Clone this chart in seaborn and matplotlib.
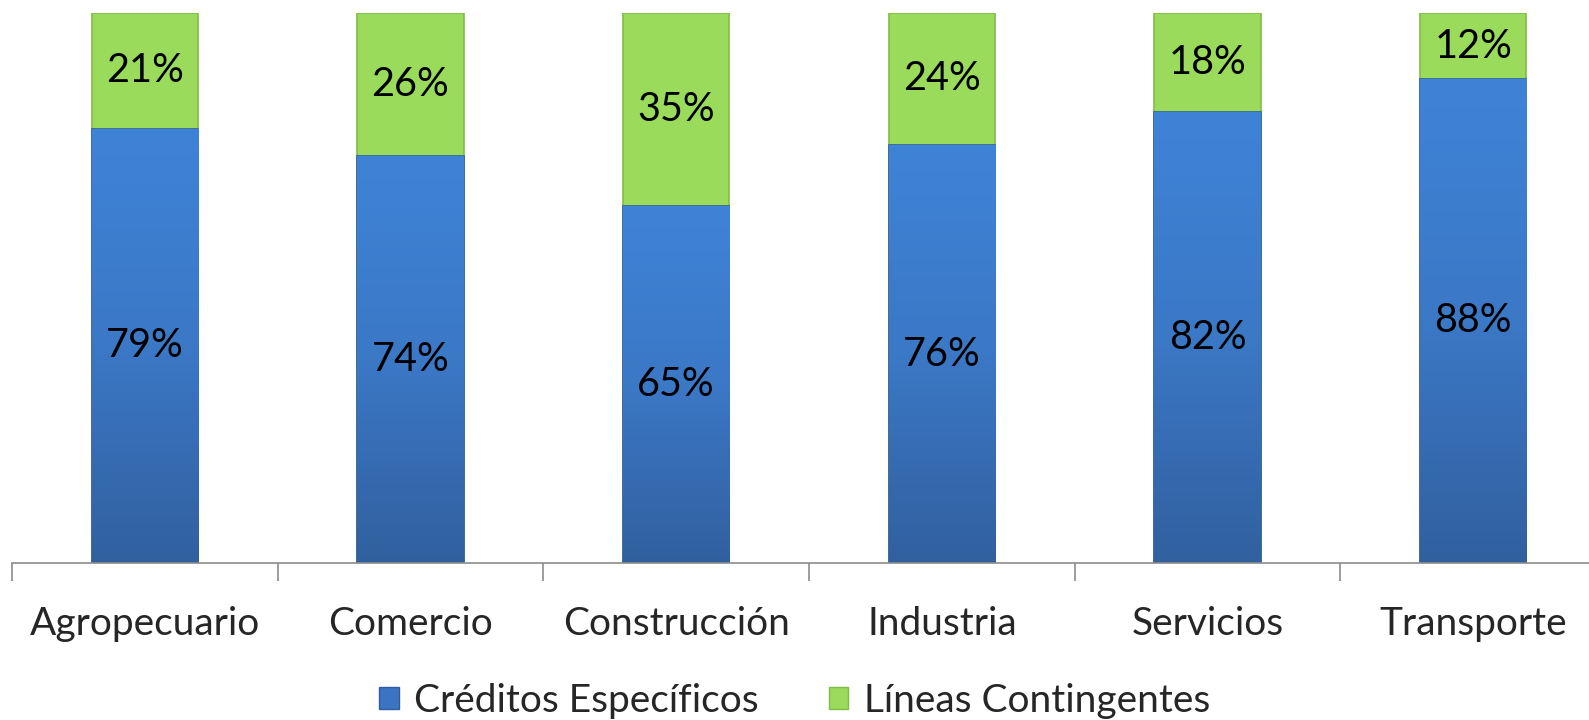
import numpy as np
import pandas as pd
import matplotlib
matplotlib.use("Agg")
import matplotlib.pyplot as plt
from matplotlib.colors import LinearSegmentedColormap
import seaborn as sns

# data
categories = ["Agropecuario", "Comercio", "Construcción", "Industria", "Servicios", "Transporte"]
creditos = [79, 74, 65, 76, 82, 88]
lineas = [21, 26, 35, 24, 18, 12]
series_names = ["Créditos Específicos", "Líneas Contingentes"]

sns.set_style("white")
plt.rcParams['font.family'] = ['Lato', 'DejaVu Sans']

df = pd.DataFrame({"cat": categories, "cred": creditos, "lin": lineas})
df["total"] = df["cred"] + df["lin"]

blue = "#3A74C2"
green = "#9BDB5C"
blue_cmap = LinearSegmentedColormap.from_list("b", ["#31609F", "#3B78C6", "#3F83D7"])

fig = plt.figure(figsize=(15.89, 7.2), dpi=100)
# the plot area runs a little past the right edge, as in the original
ax = fig.add_axes([12 / 1589, 1 - 563 / 720, 1594 / 1589, 550 / 720])

sns.barplot(data=df, x="cat", y="total", color=green, width=0.40, saturation=1,
            edgecolor="#82BC48", linewidth=1.2, ax=ax)
n_green = len(ax.patches)
sns.barplot(data=df, x="cat", y="cred", color=blue, width=0.40, saturation=1,
            edgecolor="#2F5E9C", linewidth=1.2, ax=ax)

# soft vertical gradient on the blue bars
grad = np.linspace(0, 1, 256).reshape(-1, 1)
for p in ax.patches[n_green:]:
    x0, y0 = p.get_x(), p.get_y()
    im = ax.imshow(grad, cmap=blue_cmap, aspect="auto", origin="lower",
                   extent=[x0, x0 + p.get_width(), y0, y0 + p.get_height()], zorder=p.get_zorder())
    im.set_clip_path(p)

for i, (c, l) in enumerate(zip(creditos, lineas)):
    ax.text(i, c / 2, f"{c}%", ha="center", va="center", fontsize=28.5, color="black", zorder=5)
    ax.text(i, c + l / 2, f"{l}%", ha="center", va="center", fontsize=28.5, color="black", zorder=5)

ax.set_xlim(-0.5, len(categories) - 0.5)
ax.set_ylim(0, 100)
ax.set_xlabel("")
ax.set_ylabel("")
ax.set_yticks([])
for s in ["top", "left", "right"]:
    ax.spines[s].set_visible(False)
ax.spines["bottom"].set_color("#8C8C8C")
ax.spines["bottom"].set_linewidth(1.2)

ax.set_xticks(range(len(categories)))
ax.set_xticklabels(categories, fontsize=28)
ax.tick_params(axis="x", which="major", bottom=False, length=0, pad=31)
ax.set_xticks(np.arange(-0.5, len(categories)), minor=True)
ax.tick_params(axis="x", which="minor", bottom=True, length=13, width=1.2,
               color="#8C8C8C", direction="out")

handles = [plt.Rectangle((0, 0), 1, 1, facecolor=blue, edgecolor="#2F5E9C"),
           plt.Rectangle((0, 0), 1, 1, facecolor=green, edgecolor="#82BC48")]
fig.legend(handles, series_names, loc="center", bbox_to_anchor=(0.5, 1 - 701 / 720),
           ncol=2, frameon=False, fontsize=28, handlelength=0.5, handleheight=0.5,
           handletextpad=0.4, columnspacing=1.8)

fig.savefig("out.png", dpi=100)
